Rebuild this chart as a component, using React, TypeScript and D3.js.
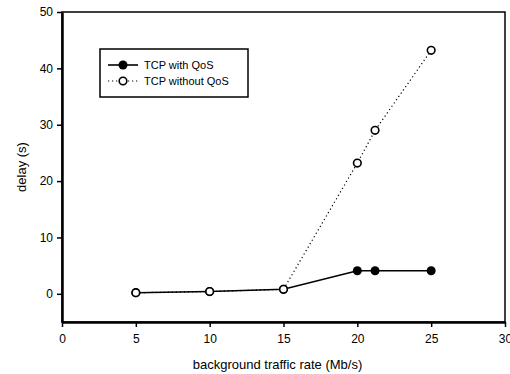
import { useEffect, useRef } from 'react';
import * as d3 from 'd3';

// background traffic rate (Mb/s)
const rates = [5, 10, 15, 20, 21.2, 25];
const withQoS = [0.2, 0.4, 0.8, 4.1, 4.1, 4.1];
const withoutQoS = [0.2, 0.4, 0.8, 23.2, 29, 43.2];
const xTicks = [0, 5, 10, 15, 20, 25, 30];
const yTicks = [0, 10, 20, 30, 40, 50];
const seriesNames = ['TCP with QoS', 'TCP without QoS'];

export default function App() {
  const svgRef = useRef(null);

  useEffect(() => {
    if (!svgRef.current) return;
    const svg = d3.select(svgRef.current);
    svg.selectAll('*').remove();

    const margin = { top: 12, right: 5, bottom: 52, left: 62 };
    const width = 510 - margin.left - margin.right;
    const height = 374 - margin.top - margin.bottom;
    const font = 'Liberation Sans, Arial, sans-serif';

    const g = svg.append('g')
      .attr('transform', `translate(${margin.left},${margin.top})`);

    const x = d3.scaleLinear().domain([0, 30]).range([0, width]);
    const y = d3.scaleLinear().domain([-5, 50]).range([height, 0]);

    // frame
    g.append('rect')
      .attr('width', width)
      .attr('height', height)
      .attr('fill', 'none')
      .attr('stroke', '#000')
      .attr('stroke-width', 1.5);

    // x axis
    const xAxis = g.append('g')
      .attr('transform', `translate(0,${height})`)
      .call(d3.axisBottom(x).tickValues(xTicks).tickSize(5).tickSizeOuter(0).tickPadding(7));
    xAxis.select('.domain').attr('stroke-width', 2.5);
    xAxis.selectAll('line').attr('stroke-width', 1.5);
    xAxis.selectAll('text')
      .style('font-family', font)
      .style('font-size', '12px')
      .attr('fill', '#000');

    // y axis
    const yAxis = g.append('g')
      .call(d3.axisLeft(y).tickValues(yTicks).tickSize(5).tickSizeOuter(0).tickPadding(4));
    yAxis.select('.domain').attr('stroke-width', 2.5);
    yAxis.selectAll('line').attr('stroke-width', 1.5);
    yAxis.selectAll('text')
      .style('font-family', font)
      .style('font-size', '12px')
      .attr('fill', '#000');

    // axis labels
    svg.append('text')
      .attr('x', margin.left + width / 2 - 6)
      .attr('y', 369)
      .attr('text-anchor', 'middle')
      .style('font-family', font)
      .style('font-size', '13px')
      .text('background traffic rate (Mb/s)');

    svg.append('text')
      .attr('transform', `translate(26,${margin.top + y(22.5)}) rotate(-90)`)
      .attr('text-anchor', 'middle')
      .style('font-family', font)
      .style('font-size', '13px')
      .text('delay (s)');

    const line = d3.line()
      .x((d) => x(d[0]))
      .y((d) => y(d[1]));

    const ptsWith = rates.map((r, i) => [r, withQoS[i]]);
    const ptsWithout = rates.map((r, i) => [r, withoutQoS[i]]);

    // without QoS dotted line
    g.append('path')
      .datum(ptsWithout)
      .attr('fill', 'none')
      .attr('stroke', '#000')
      .attr('stroke-width', 1.2)
      .attr('stroke-dasharray', '1.2,2.8')
      .attr('d', line);

    // with QoS solid line
    g.append('path')
      .datum(ptsWith)
      .attr('fill', 'none')
      .attr('stroke', '#000')
      .attr('stroke-width', 1.6)
      .attr('d', line);

    g.selectAll('.dot-with')
      .data(ptsWith)
      .enter()
      .append('circle')
      .attr('class', 'dot-with')
      .attr('cx', (d) => x(d[0]))
      .attr('cy', (d) => y(d[1]))
      .attr('r', 4.5)
      .attr('fill', '#000');

    g.selectAll('.dot-without')
      .data(ptsWithout)
      .enter()
      .append('circle')
      .attr('class', 'dot-without')
      .attr('cx', (d) => x(d[0]))
      .attr('cy', (d) => y(d[1]))
      .attr('r', 3.8)
      .attr('fill', '#fff')
      .attr('stroke', '#000')
      .attr('stroke-width', 1.6);

    // legend
    const legend = svg.append('g').attr('transform', 'translate(100,49)');
    legend.append('rect')
      .attr('width', 148)
      .attr('height', 48)
      .attr('fill', '#fff')
      .attr('stroke', '#000')
      .attr('stroke-width', 1.5);

    seriesNames.forEach((name, i) => {
      const row = legend.append('g').attr('transform', `translate(0,${16 + i * 16})`);
      row.append('line')
        .attr('x1', 8)
        .attr('x2', 38)
        .attr('stroke', '#000')
        .attr('stroke-width', i === 0 ? 1.6 : 1.2)
        .attr('stroke-dasharray', i === 0 ? null : '1.2,2.8');
      row.append('circle')
        .attr('cx', 23)
        .attr('r', i === 0 ? 4.5 : 3.8)
        .attr('fill', i === 0 ? '#000' : '#fff')
        .attr('stroke', '#000')
        .attr('stroke-width', i === 0 ? 0 : 1.6);
      row.append('text')
        .attr('x', 44)
        .attr('y', 4)
        .style('font-family', font)
        .style('font-size', '11px')
        .text(name);
    });
  }, []);

  return (
    <svg
      ref={svgRef}
      width={510}
      height={374}
      style={{ position: 'absolute', left: 0, top: 0, background: '#fff' }}
    />
  );
}
